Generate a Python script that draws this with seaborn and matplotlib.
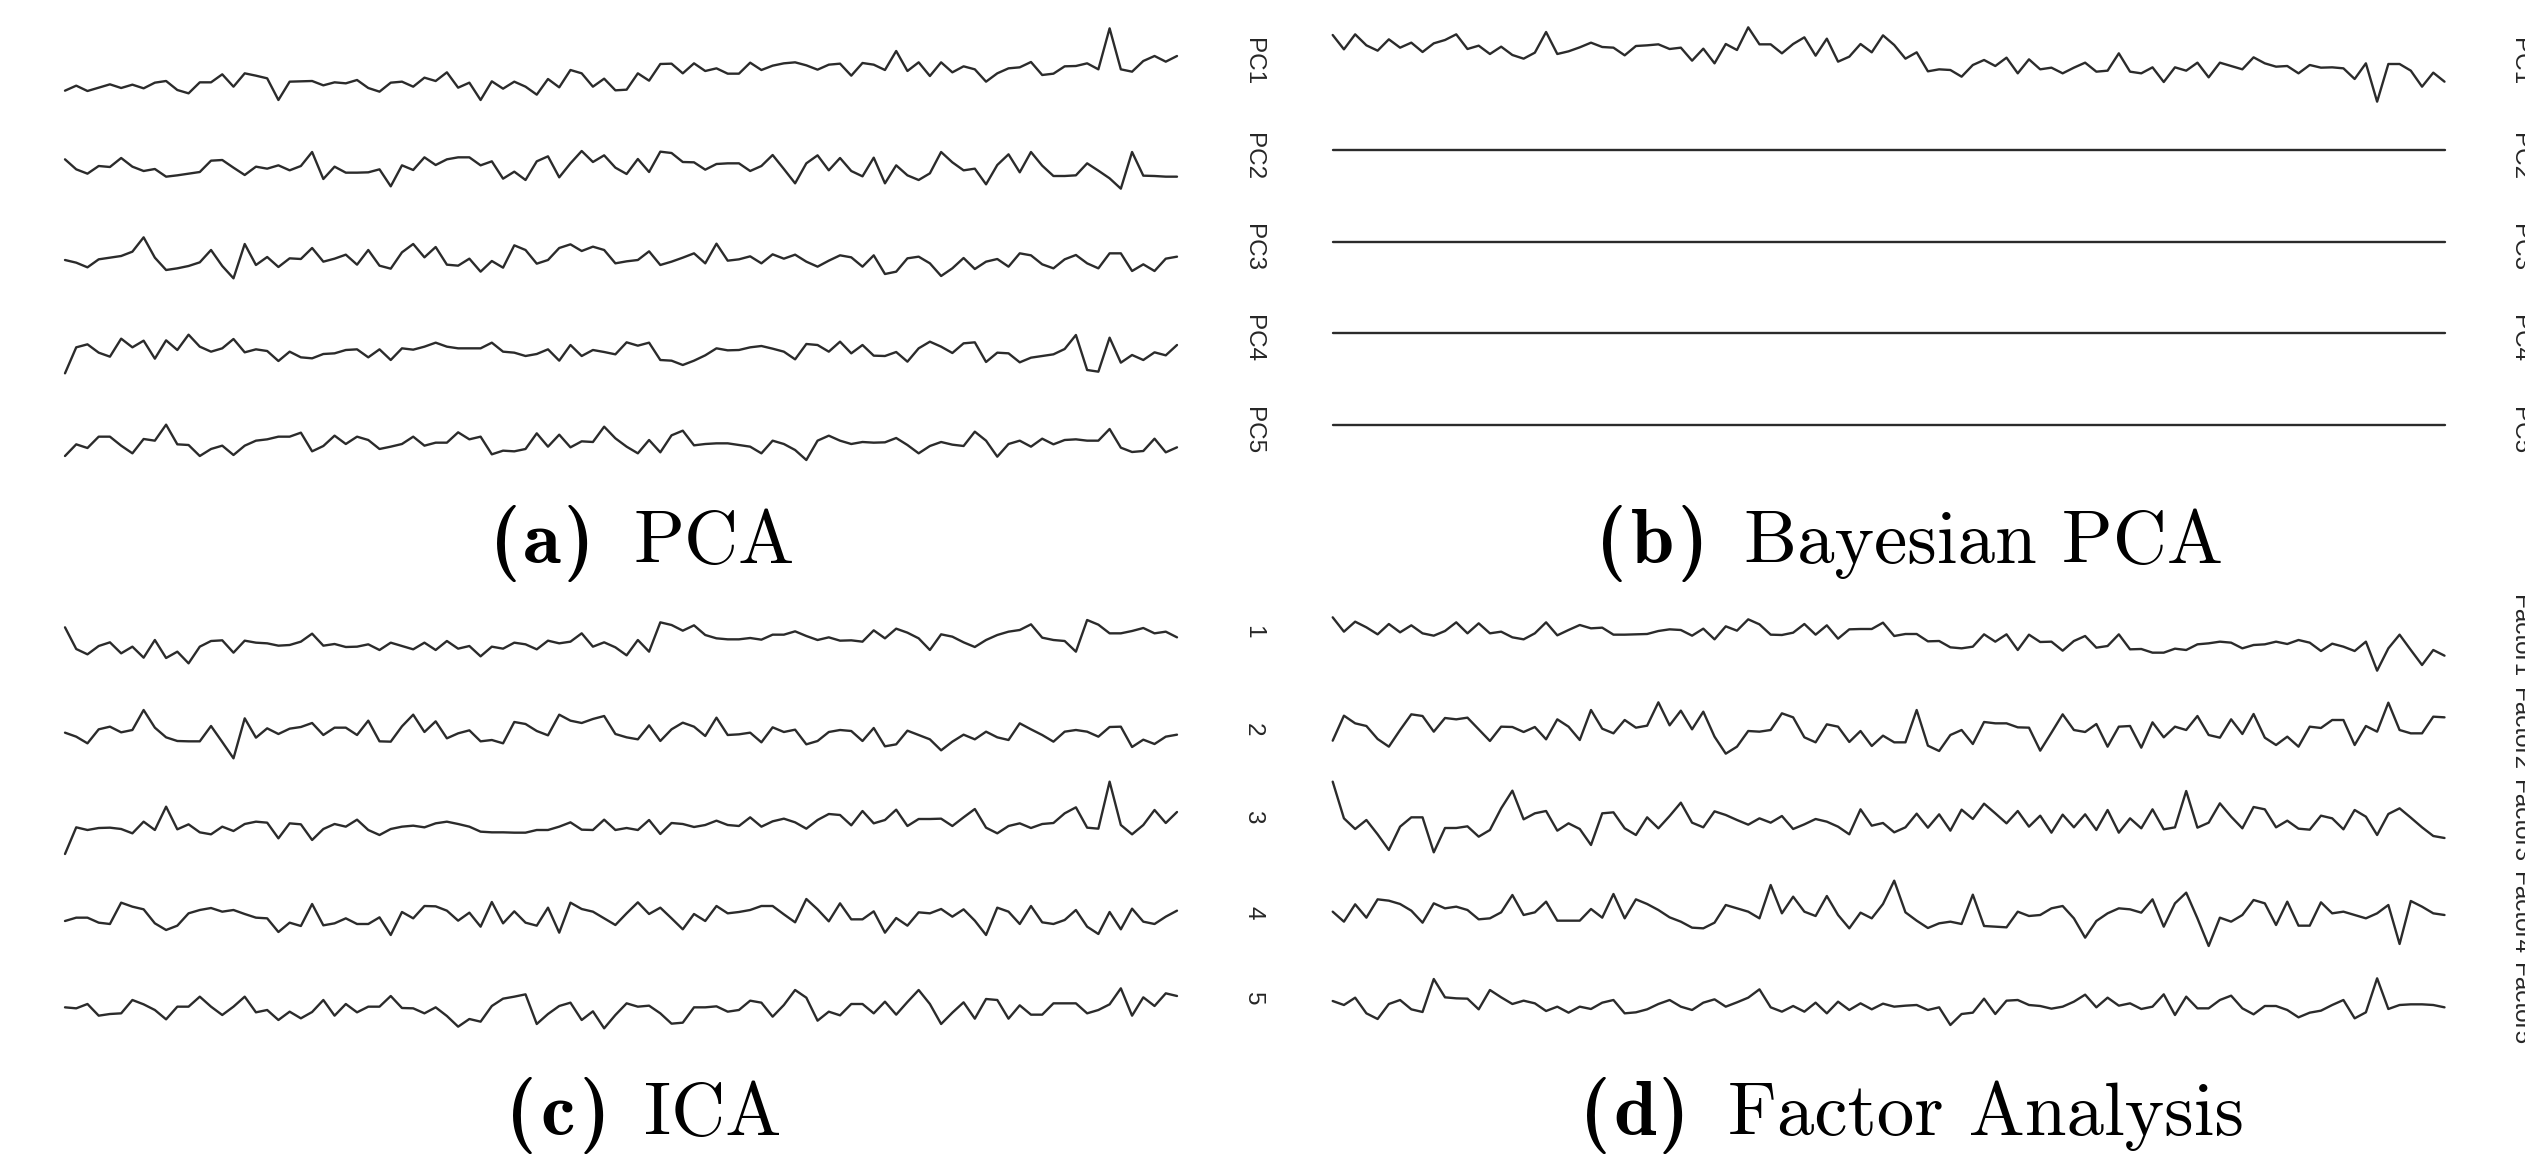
import numpy as np
import matplotlib
matplotlib.use("Agg")
import matplotlib.pyplot as plt
import seaborn as sns

# ---------------- data ----------------
pca_pc1 = [212,197,213,203,193,204,194,205,188,183,210,220,187,187,163,200,160,167,175,240,185,184,183,196,187,190,180,204,215,188,185,200,173,183,157,203,188,240,184,206,185,200,224,177,202,150,160,200,176,211,209,160,182,132,131,160,130,153,145,161,161,128,150,137,130,127,136,149,134,131,167,129,134,150,93,153,127,168,127,157,139,148,185,160,145,142,126,165,161,139,138,130,148,25,148,155,123,108,125,108]
pca_pc2 = [418,448,461,438,441,414,440,453,447,470,466,461,456,422,420,443,465,440,446,436,451,438,396,477,440,458,458,457,448,499,436,450,412,435,418,412,412,436,424,476,455,480,424,409,472,430,393,426,406,443,462,417,456,395,399,426,427,449,432,430,430,453,438,405,447,490,430,406,451,414,453,469,413,490,436,466,480,460,396,427,451,446,493,435,403,457,396,437,468,468,466,430,452,475,506,396,467,468,470,470]
pca_pc3 = [720,728,742,718,713,708,695,652,713,750,745,738,727,690,738,775,672,735,711,741,715,717,684,725,716,704,734,690,737,746,697,672,712,681,734,737,716,755,723,743,676,690,731,720,684,673,693,680,690,730,724,720,694,735,725,713,700,730,671,722,718,709,730,703,716,704,725,740,722,706,712,740,706,762,755,715,710,730,768,745,714,747,725,717,740,700,706,733,745,718,705,730,745,700,700,753,733,753,716,710]
pca_pc4 = [1060,982,973,998,1010,956,982,962,1016,961,990,944,980,995,985,957,997,988,993,1023,995,1012,1015,1002,1000,990,988,1012,988,1020,985,989,980,968,980,985,985,985,968,995,998,1008,1002,988,1022,975,1008,990,996,1003,967,977,968,1020,1022,1035,1022,1006,985,991,990,982,978,986,995,1018,972,975,995,965,1000,975,1007,1008,996,1025,985,965,980,999,970,967,1026,998,1000,1027,1013,1008,1003,987,945,1050,1055,953,1028,1005,1020,997,1006,975]
pca_pc5 = [1308,1273,1284,1250,1250,1277,1300,1257,1262,1214,1273,1275,1308,1287,1277,1305,1277,1262,1258,1250,1250,1238,1294,1278,1247,1272,1250,1260,1287,1280,1272,1250,1277,1268,1268,1237,1258,1250,1303,1292,1294,1287,1240,1280,1244,1282,1264,1266,1220,1255,1280,1300,1260,1297,1246,1232,1276,1272,1270,1270,1275,1280,1300,1262,1272,1290,1320,1262,1247,1262,1272,1266,1268,1267,1254,1275,1300,1278,1266,1274,1278,1235,1262,1310,1272,1262,1280,1256,1273,1260,1258,1262,1262,1227,1283,1296,1293,1256,1297,1282]

bpca_pc1 = [45,88,43,76,92,58,83,68,96,70,60,43,87,77,102,80,105,116,98,36,102,94,82,68,81,83,106,78,76,73,87,83,122,86,130,72,90,22,73,73,100,72,52,107,56,125,110,72,97,46,75,116,97,154,148,150,170,135,120,138,113,160,118,148,143,160,143,128,155,152,100,155,160,142,186,142,152,128,172,128,138,148,112,130,140,138,160,135,143,142,145,177,130,245,132,132,152,200,158,185]
bpca_pc2 = [0.0] * 100
bpca_pc3 = [0.0] * 100
bpca_pc4 = [0.0] * 100
bpca_pc5 = [0.0] * 100

ica_1 = [82,147,163,138,127,160,140,173,120,174,155,190,140,123,121,158,122,128,130,137,135,125,101,137,132,141,140,133,150,128,138,148,128,150,123,146,138,169,140,146,128,133,148,122,130,125,100,140,127,142,166,120,155,67,75,92,76,105,115,118,118,114,119,104,104,94,108,120,112,122,121,125,91,115,86,98,115,150,103,110,127,141,120,105,95,90,73,113,120,123,155,60,74,100,100,93,84,100,95,112]
ica_2 = [398,410,430,388,380,397,390,330,383,412,423,424,424,378,426,475,355,413,385,402,386,381,369,405,383,383,405,362,424,425,379,344,396,364,415,400,391,424,420,430,366,372,393,406,344,362,369,357,348,402,412,418,376,423,388,368,380,408,353,405,403,398,427,382,396,389,433,423,396,390,393,423,384,439,433,392,405,418,451,425,404,418,395,412,420,370,388,405,425,395,390,395,410,381,380,441,419,432,410,404]
ica_3 = [762,682,690,684,683,687,700,665,690,620,688,673,697,703,680,693,672,665,668,715,670,673,720,687,672,680,659,690,705,687,680,677,682,670,665,672,680,695,697,697,698,698,690,690,680,667,689,690,659,690,684,690,660,702,669,672,681,675,662,675,678,652,680,664,656,667,686,660,642,645,676,633,670,660,629,678,657,657,656,678,652,627,683,700,678,670,684,672,669,640,622,683,686,545,675,703,675,630,669,636]
ica_4 = [963,953,953,968,972,908,920,928,970,990,977,940,930,924,935,930,942,953,955,996,968,978,912,976,970,955,972,972,952,1005,936,955,918,919,932,962,938,980,906,970,934,968,977,923,998,908,927,935,955,975,940,907,942,923,955,988,942,963,918,940,936,930,918,918,943,967,897,928,964,910,958,958,934,998,954,977,937,940,927,950,928,962,1005,923,935,972,918,967,972,960,930,980,1002,936,988,926,965,972,950,932]
ica_5 = [1222,1225,1212,1247,1242,1240,1200,1213,1230,1258,1220,1220,1190,1220,1245,1220,1190,1237,1230,1260,1235,1255,1236,1200,1247,1212,1237,1220,1220,1188,1224,1225,1240,1222,1248,1280,1257,1265,1218,1196,1190,1183,1272,1242,1218,1208,1260,1234,1285,1245,1210,1220,1217,1240,1271,1268,1222,1222,1219,1235,1230,1202,1208,1250,1215,1170,1193,1262,1235,1246,1212,1212,1240,1205,1244,1206,1170,1212,1272,1238,1207,1256,1197,1200,1256,1216,1244,1244,1210,1210,1210,1240,1230,1213,1165,1247,1192,1218,1180,1188]

fa_1 = [52,95,65,82,103,72,97,76,100,107,93,67,100,70,100,95,112,118,100,67,106,90,75,85,83,104,104,103,102,93,88,90,107,86,118,79,92,58,73,104,105,98,72,104,76,116,88,87,87,68,108,102,102,124,123,142,145,140,103,125,103,150,104,126,125,152,123,108,143,138,103,148,147,158,158,146,150,133,130,125,128,145,135,133,125,132,120,128,153,131,140,153,125,212,145,104,150,195,150,167]
fa_2 = [422,347,370,378,417,440,390,343,348,395,354,358,353,388,423,380,381,396,381,418,358,380,420,330,386,400,360,383,377,307,376,332,388,335,410,461,440,393,395,390,340,352,412,427,373,380,426,393,438,407,427,427,330,437,453,405,390,432,366,370,370,382,383,452,398,343,390,396,372,440,380,378,443,367,412,380,390,348,405,413,358,402,342,413,435,410,440,380,384,360,360,435,378,395,308,390,400,400,350,352]
fa_3 = [545,655,687,660,703,750,680,652,652,757,684,684,679,710,690,625,572,658,640,633,692,670,687,735,640,637,685,705,652,685,648,608,668,682,634,645,660,674,655,668,648,687,673,657,665,680,703,628,677,669,697,682,641,683,643,692,629,657,611,640,670,633,680,647,698,644,682,643,690,630,698,655,685,628,688,682,573,683,668,610,650,685,621,628,682,662,686,689,647,655,688,630,650,705,642,625,653,682,708,714]
fa_4 = [935,965,913,953,898,902,912,932,968,910,925,920,930,958,955,937,885,945,937,905,962,962,962,927,953,882,955,898,912,930,952,965,983,985,968,915,925,935,955,855,940,890,935,948,888,945,985,938,955,912,842,937,962,984,970,965,972,884,978,980,982,935,948,945,925,918,955,1013,963,940,925,928,938,898,980,910,878,955,1038,953,965,945,900,910,975,905,977,977,907,940,935,945,955,940,915,1032,903,920,940,945]
fa_5 = [1203,1215,1193,1240,1257,1212,1200,1228,1236,1137,1192,1195,1196,1228,1170,1192,1212,1202,1210,1233,1220,1238,1220,1227,1208,1200,1240,1237,1228,1212,1200,1220,1230,1208,1198,1220,1207,1193,1168,1222,1235,1218,1235,1208,1240,1205,1230,1210,1228,1211,1220,1217,1215,1230,1222,1275,1242,1238,1196,1242,1202,1200,1215,1218,1226,1220,1205,1184,1222,1193,1217,1210,1227,1220,1183,1245,1190,1225,1225,1200,1187,1225,1243,1218,1218,1230,1252,1238,1232,1215,1200,1255,1237,1135,1227,1215,1213,1213,1215,1222]

pca_labels = ["PC1", "PC2", "PC3", "PC4", "PC5"]
ica_labels = ["1", "2", "3", "4", "5"]
fa_labels = ["Factor1", "Factor2", "Factor3", "Factor4", "Factor5"]
caption_letters = ["a", "b", "c", "d"]
caption_names = ["PCA", "Bayesian PCA", "ICA", "Factor Analysis"]

# ---------------- style ----------------
sns.set_style("white")
plt.rcParams["font.family"] = ["Liberation Sans", "DejaVu Sans"]

W, H = 2525, 1161
fig = plt.figure(figsize=(W / 100, H / 100), dpi=100)
LINE = "#2b2b2b"
LW = 1.7
SCALE = 3.0  # value units per pixel of the reference frame

def frac_x(px):
    return px / W

def frac_y(py):
    return 1 - py / H

def draw_row(vals, x0, x1, ref_top, band_c, half=46):
    """ref_top: pixel row where value 0 sits; values grow downward."""
    ax = fig.add_axes([frac_x(x0), frac_y(band_c + half), (x1 - x0) / W, 2 * half / H])
    xs = np.arange(len(vals))
    sns.lineplot(x=xs, y=np.asarray(vals, float), ax=ax, color=LINE, linewidth=LW,
                 estimator=None, sort=False, errorbar=None, clip_on=False)
    ax.set_xlim(0, len(vals) - 1)
    ax.set_ylim((band_c + half - ref_top) * SCALE, (band_c - half - ref_top) * SCALE)
    ax.axis("off")
    return ax

LX0, LX1 = 65, 1177
RX0, RX1 = 1332.7, 2444.5

top_rows_c = [62, 157, 248, 339, 431]
bot_rows_c = [632, 730, 817, 913, 999]

# (a) PCA
for vals, c in zip([pca_pc1, pca_pc2, pca_pc3, pca_pc4, pca_pc5], top_rows_c):
    draw_row(vals, LX0, LX1, 20, c)
# (b) Bayesian PCA
draw_row(bpca_pc1, RX0, RX1, 20, top_rows_c[0])
for vals, ly in zip([bpca_pc2, bpca_pc3, bpca_pc4, bpca_pc5], [150, 241.5, 333, 425]):
    draw_row(vals, RX0, RX1, ly, ly)
# (c) ICA
for vals, c in zip([ica_1, ica_2, ica_3, ica_4, ica_5], bot_rows_c):
    draw_row(vals, LX0, LX1, 600, c)
# (d) Factor analysis
for vals, c in zip([fa_1, fa_2, fa_3, fa_4, fa_5], bot_rows_c):
    draw_row(vals, RX0, RX1, 600, c)

LAB = 17.5
LABC = "#262626"
for lab, c in zip(pca_labels, top_rows_c):
    fig.text(frac_x(1253), frac_y(c), lab, rotation=270, ha="center", va="center", fontsize=LAB, color=LABC)
    fig.text(frac_x(2519), frac_y(c), lab, rotation=270, ha="center", va="center", fontsize=LAB, color=LABC)
for lab, c in zip(ica_labels, bot_rows_c):
    fig.text(frac_x(1253), frac_y(c), lab, rotation=270, ha="center", va="center", fontsize=LAB, color=LABC)
fa_c = [636, 729, 821, 913, 1004]
for lab, c in zip(fa_labels, fa_c):
    fig.text(frac_x(2519), frac_y(c), lab, rotation=270, ha="center", va="center", fontsize=LAB, color=LABC)

# captions: bold "(x)" tag + regular name (Computer Modern fonts bundled with matplotlib)
tag_left = [490, 1596, 506, 1580]
tag_right = [594, 1708, 610, 1689]
name_x = [633, 1744, 644, 1728]
base_y = [563, 563, 1135, 1135]
CAP = 54
for letter, name, tl, tr, nx, by in zip(caption_letters, caption_names, tag_left, tag_right, name_x, base_y):
    yy = frac_y(by)
    kw = dict(va="baseline", fontsize=CAP + 2, family="cmb10", color="black")
    fig.text(frac_x(tl), yy, "(", ha="left", **kw)
    fig.text(frac_x((tl + tr) / 2), yy, letter, ha="center", **kw)
    fig.text(frac_x(tr), yy, ")", ha="right", **kw)
    fig.text(frac_x(nx), yy, name, ha="left", va="baseline", fontsize=CAP, family="cmr10", color="black")

fig.savefig("out.png", dpi=100, facecolor="white")
